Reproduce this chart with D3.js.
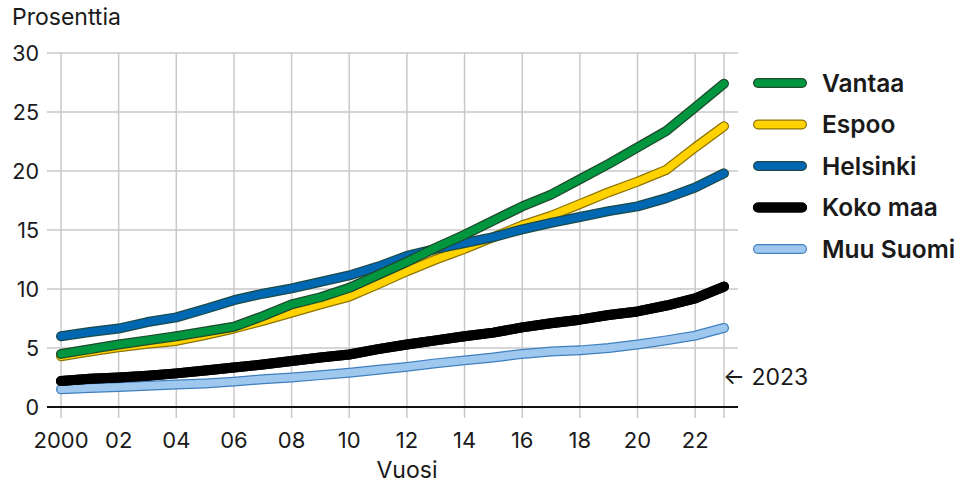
<!DOCTYPE html>
<html>
<head>
<meta charset="utf-8">
<script src="https://cdn.jsdelivr.net/npm/d3@7"></script>
<style>
  body { margin: 0; background: #fff; }
  text { font-family: Inter, "Noto Sans", sans-serif; fill: #1a1a1a; }
</style>
</head>
<body>
<div id="chart"></div>
<script>
// years 2000..2023
var years = d3.range(2000, 2024);

var vantaa   = [4.5, 4.9, 5.3, 5.65, 6.0, 6.4, 6.8, 7.7, 8.7, 9.3, 10.1, 11.2, 12.3, 13.5, 14.6, 15.8, 17.0, 18.0, 19.3, 20.6, 22.0, 23.4, 25.4, 27.4];
var espoo    = [4.3, 4.7, 5.05, 5.35, 5.6, 6.1, 6.65, 7.3, 8.0, 8.7, 9.35, 10.4, 11.5, 12.5, 13.4, 14.4, 15.4, 16.2, 17.2, 18.2, 19.1, 20.1, 22.0, 23.8];
var helsinki = [6.0, 6.35, 6.65, 7.2, 7.6, 8.3, 9.05, 9.6, 10.05, 10.6, 11.15, 11.9, 12.8, 13.4, 13.9, 14.4, 15.05, 15.6, 16.1, 16.6, 17.0, 17.7, 18.6, 19.8];
var kokoMaa  = [2.2, 2.4, 2.5, 2.65, 2.85, 3.1, 3.35, 3.6, 3.9, 4.2, 4.45, 4.9, 5.3, 5.65, 6.0, 6.3, 6.75, 7.1, 7.4, 7.8, 8.1, 8.6, 9.2, 10.2];
var muuSuomi = [1.5, 1.6, 1.7, 1.8, 1.9, 2.0, 2.15, 2.35, 2.5, 2.7, 2.9, 3.15, 3.4, 3.7, 3.95, 4.2, 4.5, 4.7, 4.8, 5.0, 5.3, 5.65, 6.05, 6.7];

var xTickYears = [2000, 2002, 2004, 2006, 2008, 2010, 2012, 2014, 2016, 2018, 2020, 2022];
var xTickLabels = ["2000", "02", "04", "06", "08", "10", "12", "14", "16", "18", "20", "22"];
var yTicks = [0, 5, 10, 15, 20, 25, 30];

var series = [
  {name: "Vantaa",    values: vantaa,   color: "#00963f", edge: "#1f4a2c"},
  {name: "Espoo",     values: espoo,    color: "#ffd200", edge: "#8c7400"},
  {name: "Helsinki",  values: helsinki, color: "#0068b3", edge: "#1c4a48"},
  {name: "Koko maa",  values: kokoMaa,  color: "#000000", edge: "#000000"},
  {name: "Muu Suomi", values: muuSuomi, color: "#9fc8ee", edge: "#3f7fbf"}
];
// drawing order (back to front)
var drawOrder = ["Muu Suomi", "Koko maa", "Espoo", "Helsinki", "Vantaa"];

var W = 961, H = 484;
var svg = d3.select("#chart").append("svg")
  .attr("width", W).attr("height", H);

var x = d3.scaleLinear().domain([2000, 2023]).range([61, 724]);
var y = d3.scaleLinear().domain([0, 30]).range([407, 53]);
var gridLeft = 47, gridRight = 738;

// horizontal grid
svg.append("g").selectAll("line")
  .data(yTicks.filter(d => d > 0))
  .enter().append("line")
  .attr("x1", gridLeft).attr("x2", gridRight)
  .attr("y1", d => y(d)).attr("y2", d => y(d))
  .attr("stroke", "#c9c9cb").attr("stroke-width", 1.5);

// vertical grid (plus 2023)
svg.append("g").selectAll("line")
  .data(xTickYears.concat([2023]))
  .enter().append("line")
  .attr("x1", d => x(d)).attr("x2", d => x(d))
  .attr("y1", y(30)).attr("y2", 418)
  .attr("stroke", "#c9c9cb").attr("stroke-width", 1.5);

// y tick labels
svg.append("g").selectAll("text")
  .data(yTicks)
  .enter().append("text")
  .attr("x", 39).attr("y", d => y(d))
  .attr("dy", "0.36em")
  .attr("text-anchor", "end")
  .style("font-size", "21.5px")
  .text(d => d);

// x tick labels
svg.append("g").selectAll("text")
  .data(xTickYears)
  .enter().append("text")
  .attr("x", d => x(d)).attr("y", 448)
  .attr("text-anchor", "middle")
  .style("font-size", "22px")
  .text((d, i) => xTickLabels[i]);

var line = d3.line()
  .x((d, i) => x(years[i]))
  .y(d => y(d));

var ordered = drawOrder.map(n => series.find(s => s.name === n));
var lg = svg.append("g");
ordered.forEach(function(s) {
  lg.append("path")
    .attr("d", line(s.values))
    .attr("fill", "none")
    .attr("stroke", s.edge)
    .attr("stroke-width", 10)
    .attr("stroke-linecap", "round")
    .attr("stroke-linejoin", "round");
  lg.append("path")
    .attr("d", line(s.values))
    .attr("fill", "none")
    .attr("stroke", s.color)
    .attr("stroke-width", s.name === "Koko maa" ? 10 : 7.5)
    .attr("stroke-linecap", "round")
    .attr("stroke-linejoin", "round");
});

// zero axis line
svg.append("line")
  .attr("x1", gridLeft).attr("x2", gridRight)
  .attr("y1", y(0)).attr("y2", y(0))
  .attr("stroke", "#111").attr("stroke-width", 2);

// titles
svg.append("text")
  .attr("x", 12).attr("y", 25)
  .style("font-size", "23px")
  .text("Prosenttia");

svg.append("text")
  .attr("x", 407).attr("y", 478)
  .attr("text-anchor", "middle")
  .style("font-size", "23px")
  .text("Vuosi");

svg.append("text")
  .attr("x", 723).attr("y", 385)
  .style("font-size", "23px")
  .text("\u2190 2023");

// legend
var legend = svg.append("g").selectAll("g")
  .data(series)
  .enter().append("g")
  .attr("transform", (d, i) => "translate(0," + (83 + i * 41.5) + ")");

legend.append("line")
  .attr("x1", 758).attr("x2", 802)
  .attr("stroke", d => d.edge)
  .attr("stroke-width", 10)
  .attr("stroke-linecap", "round");
legend.append("line")
  .attr("x1", 758).attr("x2", 802)
  .attr("stroke", d => d.color)
  .attr("stroke-width", d => d.name === "Koko maa" ? 10 : 7.5)
  .attr("stroke-linecap", "round");
legend.append("text")
  .attr("x", 822).attr("dy", "0.36em")
  .style("font-size", "24.5px")
  .style("font-weight", 600)
  .text(d => d.name);
</script>
</body>
</html>
